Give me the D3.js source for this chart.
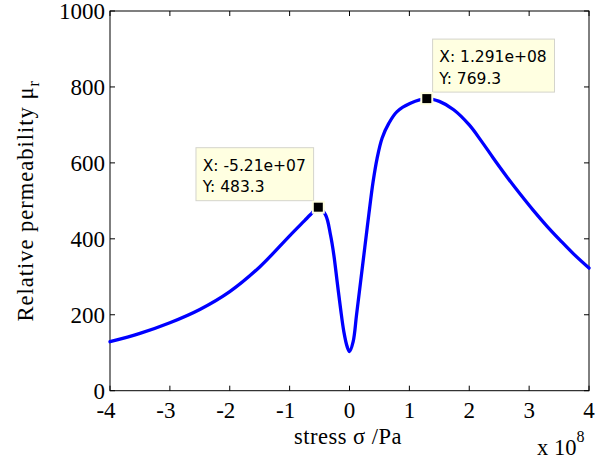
<!DOCTYPE html>
<html>
<head>
<meta charset="utf-8">
<script src="https://cdn.jsdelivr.net/npm/d3@7"></script>
<style>
  html, body { margin: 0; padding: 0; background: #fff; }
  svg { display: block; }
  .tick-label { font-family: "Liberation Serif", "Times New Roman", serif; font-size: 23px; fill: #000; }
  .axis-title { font-family: "Liberation Serif", "Times New Roman", serif; font-size: 22.5px; fill: #000; }
  .tip-text { font-family: "DejaVu Sans", Verdana, sans-serif; font-size: 15.5px; fill: #000; }
</style>
</head>
<body>
<svg id="chart" width="605" height="459"></svg>
<script>
// Stress in units of 1e8 Pa, relative permeability mu_r
const stress = [-4, -3.5, -3, -2.5, -2, -1.5, -1, -0.75, -0.65, -0.521, -0.4, -0.317, -0.261, -0.206,
                -0.15, -0.094, -0.039, 0, 0.061, 0.117, 0.183, 0.256, 0.322, 0.394, 0.461, 0.544,
                0.656, 0.794, 1.017, 1.291, 1.5, 1.74, 2.0, 2.2, 2.4, 2.63, 2.85, 3.07, 3.3, 3.52, 3.75, 4];
const permeability = [129, 151, 179, 214, 261, 326, 408, 448, 464, 483.3, 463, 410, 357, 287,
                      217, 155, 116, 103, 129, 199, 284, 378, 463, 550, 612, 665,
                      704, 735, 757, 769.3, 762, 740, 700, 658, 613, 563, 518, 475, 433, 396, 359, 323];

// Data tips (stress in 1e8 Pa)
const tipStress = [-0.521, 1.291];
const tipPerm = [483.3, 769.3];
const tipSide = ["left", "right"];

const xTicks = [-4, -3, -2, -1, 0, 1, 2, 3, 4];
const yTicks = [0, 200, 400, 600, 800, 1000];

const svg = d3.select("#chart");
const plot = { left: 110, right: 589, top: 11, bottom: 390.7 };

const x = d3.scaleLinear().domain([-4, 4]).range([plot.left, plot.right]);
const y = d3.scaleLinear().domain([0, 1000]).range([plot.bottom, plot.top]);

const tickLen = 5;

// Axes box
const axes = svg.append("g");
axes.append("rect")
  .attr("x", plot.left).attr("y", plot.top)
  .attr("width", plot.right - plot.left).attr("height", plot.bottom - plot.top)
  .attr("fill", "none").attr("stroke", "#000").attr("stroke-width", 1);

// X ticks (bottom and top, pointing inward)
xTicks.forEach(t => {
  const px = x(t);
  axes.append("line").attr("x1", px).attr("x2", px)
    .attr("y1", plot.bottom).attr("y2", plot.bottom - tickLen)
    .attr("stroke", "#000").attr("stroke-width", 1);
  axes.append("line").attr("x1", px).attr("x2", px)
    .attr("y1", plot.top).attr("y2", plot.top + tickLen)
    .attr("stroke", "#000").attr("stroke-width", 1);
  axes.append("text").attr("class", "tick-label")
    .attr("x", t < 0 ? px - 4 : px).attr("y", 418)
    .attr("text-anchor", "middle")
    .text(t < 0 ? "-" + Math.abs(t) : String(t));
});

// Y ticks (left and right, pointing inward)
yTicks.forEach(t => {
  const py = y(t);
  axes.append("line").attr("x1", plot.left).attr("x2", plot.left + tickLen)
    .attr("y1", py).attr("y2", py)
    .attr("stroke", "#000").attr("stroke-width", 1);
  axes.append("line").attr("x1", plot.right).attr("x2", plot.right - tickLen)
    .attr("y1", py).attr("y2", py)
    .attr("stroke", "#000").attr("stroke-width", 1);
  axes.append("text").attr("class", "tick-label")
    .attr("x", 105).attr("y", py + 8)
    .attr("text-anchor", "end")
    .text(String(t));
});

// Axis titles
svg.append("text").attr("class", "axis-title")
  .attr("x", 348).attr("y", 443.5)
  .attr("text-anchor", "middle")
  .attr("letter-spacing", "0.5px")
  .text("stress σ /Pa");

const yTitle = svg.append("text").attr("class", "axis-title")
  .attr("transform", "translate(32.5," + ((plot.top + plot.bottom) / 2) + ") rotate(-90)")
  .attr("text-anchor", "middle")
  .attr("letter-spacing", "1px");
yTitle.append("tspan").text("Relative permeability μ");
yTitle.append("tspan").attr("dy", 6).attr("font-size", "16px").text("r");

// Exponent multiplier
const mult = svg.append("text").attr("class", "axis-title")
  .attr("x", 537).attr("y", 455);
mult.append("tspan").text("x 10");
mult.append("tspan").attr("dy", -13).attr("font-size", "16px").text("8");

// Curve
const line = d3.line()
  .x((d, i) => x(stress[i]))
  .y((d, i) => y(permeability[i]))
  .curve(d3.curveCatmullRom.alpha(0.5));

svg.append("path")
  .datum(permeability)
  .attr("d", line)
  .attr("fill", "none")
  .attr("stroke", "#0000ff")
  .attr("stroke-width", 3.3)
  .attr("stroke-linejoin", "round")
  .attr("stroke-linecap", "round");

// Data tip formatting
function fmtExp(v) {
  const e = Math.floor(Math.log10(Math.abs(v)));
  const m = (v / Math.pow(10, e)).toFixed(3).replace(/0+$/, "").replace(/\.$/, "");
  const es = (e < 0 ? "-" : "+") + String(Math.abs(e)).padStart(2, "0");
  return m + "e" + es;
}

const tips = svg.append("g");
tipStress.forEach((s, i) => {
  const mx = x(s), my = y(tipPerm[i]);
  const g = tips.append("g");
  const box = g.append("rect")
    .attr("fill", "#ffffe1").attr("stroke", "#d4d4cc").attr("stroke-width", 1);
  const t1 = g.append("text").attr("class", "tip-text").text("X: " + fmtExp(s * 1e8));
  const t2 = g.append("text").attr("class", "tip-text").text("Y: " + (+tipPerm[i].toPrecision(4)));
  const w = Math.max(t1.node().getComputedTextLength(), t2.node().getComputedTextLength()) + 14.5;
  const h = 53;
  const bx = tipSide[i] === "left" ? mx - 4.7 - w : mx + 5.8;
  const by = my - 6.5 - h;
  box.attr("x", bx).attr("y", by).attr("width", w).attr("height", h);
  t1.attr("x", bx + 6.7).attr("y", by + 23.2);
  t2.attr("x", bx + 6.7).attr("y", by + 44.5);

  // Marker
  g.append("rect").attr("x", mx - 6.5).attr("y", my - 6.5).attr("width", 13).attr("height", 13)
    .attr("fill", "#ffffe1");
  g.append("rect").attr("x", mx - 4.5).attr("y", my - 4.5).attr("width", 9).attr("height", 9)
    .attr("fill", "#000");
});
</script>
</body>
</html>
